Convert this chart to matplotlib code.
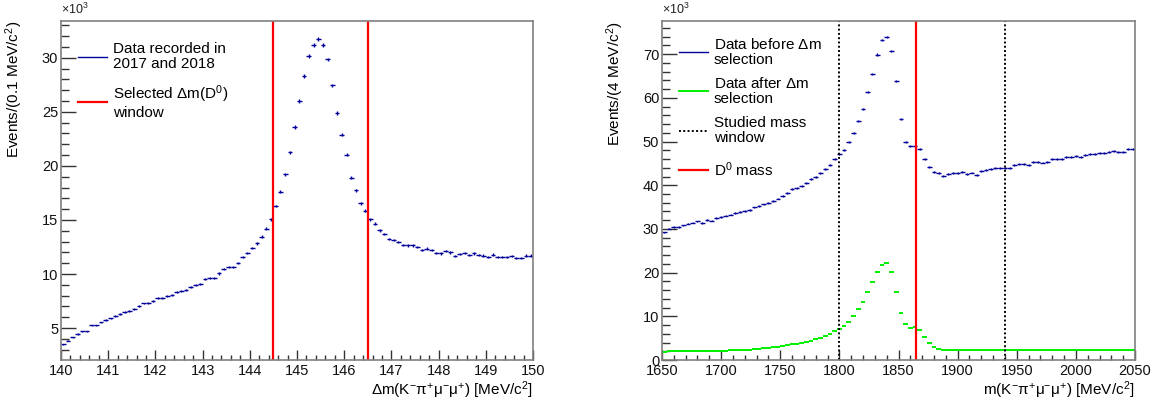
import numpy as np
import matplotlib
matplotlib.use("Agg")
import matplotlib.pyplot as plt
from matplotlib.lines import Line2D
from matplotlib.ticker import MultipleLocator

plt.rcParams['font.family'] = ['Liberation Sans', 'DejaVu Sans']
plt.rcParams['mathtext.fontset'] = 'custom'
plt.rcParams['mathtext.rm'] = 'Liberation Sans'
plt.rcParams['mathtext.it'] = 'Liberation Sans:italic'
plt.rcParams['mathtext.bf'] = 'Liberation Sans:bold'

# delta m histogram: 140-150 MeV, 0.1 MeV bins, counts in units of 10^3
dm_range = (140.0, 150.0)
dm_counts = [
    3.5, 3.83, 4.15, 4.45, 4.7, 4.7, 5.25, 5.25, 5.53, 5.75,
    5.9, 6.1, 6.3, 6.5, 6.57, 6.8, 7.05, 7.28, 7.33, 7.5,
    7.78, 7.78, 8.0, 8.1, 8.3, 8.4, 8.55, 8.8, 9.0, 9.05,
    9.5, 9.6, 9.6, 10.05, 10.48, 10.67, 10.67, 11.0, 11.6, 11.97,
    12.4, 12.84, 13.45, 14.2, 15.05, 16.3, 17.6, 19.25, 21.25, 23.6,
    26.0, 28.3, 30.15, 31.2, 31.75, 31.15, 29.85, 27.45, 24.9, 22.9,
    21.05, 18.9, 17.75, 16.55, 15.85, 15.05, 14.65, 14.05, 13.7, 13.25,
    13.15, 12.95, 12.7, 12.65, 12.65, 12.5, 12.25, 12.35, 12.2, 11.95,
    11.9, 12.15, 12.0, 11.65, 11.85, 11.95, 11.75, 11.9, 11.75, 11.7,
    11.55, 11.8, 11.6, 11.6, 11.6, 11.65, 11.5, 11.5, 11.7, 11.7,
]
dm_window = [144.5, 146.5]

# m(K pi mu mu) histograms: 1650-2050 MeV, 4 MeV bins, counts in units of 10^3
m_range = (1650.0, 2050.0)
m_before = [
    29.2, 30.1, 30.4, 30.4, 30.8, 31.2, 31.45, 31.75, 31.4, 32.05,
    31.9, 32.5, 32.8, 33.05, 33.3, 33.6, 33.9, 34.05, 34.35, 34.95,
    35.3, 35.6, 36.0, 36.45, 36.95, 37.55, 38.3, 39.1, 39.4, 39.85,
    40.6, 41.5, 41.9, 42.75, 43.7, 44.65, 45.95, 47.1, 48.1, 50.0,
    52.05, 54.8, 57.5, 61.4, 65.5, 69.9, 73.2, 73.9, 70.75, 63.95,
    55.1, 50.0, 48.9, 49.05, 48.4, 45.95, 44.2, 43.0, 42.75, 42.2,
    42.5, 42.75, 42.75, 43.0, 42.6, 42.9, 42.35, 43.35, 43.4, 43.7,
    43.9, 43.9, 44.0, 43.9, 44.6, 44.95, 44.9, 44.7, 45.25, 45.3,
    45.2, 45.4, 46.1, 46.05, 46.0, 46.4, 46.55, 46.7, 46.55, 46.9,
    47.1, 47.25, 47.3, 47.3, 47.55, 47.8, 47.55, 47.7, 48.2, 48.3,
]
m_after = [
    1.9, 1.95, 2.05, 1.95, 2.0, 2.05, 2.05, 2.05, 2.05, 2.05,
    2.1, 2.1, 2.1, 2.14, 2.21, 2.21, 2.3, 2.37, 2.37, 2.6,
    2.52, 2.75, 2.83, 2.9, 3.05, 3.13, 3.36, 3.59, 3.65, 3.97,
    4.2, 4.43, 4.81, 5.11, 5.5, 6.03, 6.64, 7.17, 7.86, 8.7,
    10.08, 11.68, 13.28, 15.5, 17.94, 20.07, 21.76, 22.2, 20.07, 15.6,
    10.76, 8.17, 7.4, 7.63, 6.87, 5.34, 3.97, 3.05, 2.52, 2.37,
    2.3, 2.3, 2.25, 2.25, 2.3, 2.25, 2.3, 2.25, 2.25, 2.3,
    2.3, 2.35, 2.3, 2.25, 2.3, 2.25, 2.3, 2.25, 2.3, 2.3,
    2.25, 2.2, 2.2, 2.25, 2.2, 2.2, 2.25, 2.2, 2.25, 2.3,
    2.3, 2.3, 2.25, 2.3, 2.3, 2.3, 2.25, 2.3, 2.3, 2.3,
]
studied_window = [1800.0, 1940.0]
d0_mass = 1864.84

BLUE = '#000099'
GREEN = '#00f000'
RED = '#ff0000'


def bin_centers(lo, hi, n):
    edges = np.linspace(lo, hi, n + 1)
    return 0.5 * (edges[1:] + edges[:-1]), 0.5 * (edges[1] - edges[0])


def draw_hist(ax, lo, hi, counts, color, lw=1.0):
    y = np.array(counts)
    x, half = bin_centers(lo, hi, len(y))
    # poisson errors, counts are in units of 10^3
    err = np.sqrt(y * 1e3) / 1e3
    ax.errorbar(x, y, xerr=half, yerr=err, fmt='none', ecolor=color,
                elinewidth=lw, capsize=0)


def root_style(ax, xmaj, xmin, ymaj, ymin):
    for s in ax.spines.values():
        s.set_color('#808080')
        s.set_linewidth(1.2)
    ax.xaxis.set_major_locator(MultipleLocator(xmaj))
    ax.xaxis.set_minor_locator(MultipleLocator(xmin))
    ax.yaxis.set_major_locator(MultipleLocator(ymaj))
    ax.yaxis.set_minor_locator(MultipleLocator(ymin))
    ax.tick_params(which='both', direction='in', top=False, right=False,
                   width=1.0, color='#333333', labelsize=10.5, labelcolor='#111111')
    ax.xaxis.set_tick_params(which='major', length=7.5, pad=3)
    ax.xaxis.set_tick_params(which='minor', length=3.8)
    ax.yaxis.set_tick_params(which='major', length=11, pad=2)
    ax.yaxis.set_tick_params(which='minor', length=5.5)
    ax.text(0.0, 1.012, r'$\times10^{3}$', transform=ax.transAxes,
            ha='left', va='bottom', fontsize=9, color='#222222')


def root_legend(ax, entries, y_top, dy):
    for i, (kw, label) in enumerate(entries):
        yc = y_top - i * dy
        ax.add_line(Line2D([0.036, 0.097], [yc, yc], transform=ax.transAxes, **kw))
        ax.text(0.110, yc, label, transform=ax.transAxes, ha='left', va='center',
                fontsize=11, linespacing=1.1)


fig = plt.figure(figsize=(11.54, 4.03), dpi=100)
axL = fig.add_axes([61 / 1154, 43 / 403, 472 / 1154, 339 / 403])
axR = fig.add_axes([662 / 1154, 43 / 403, 473 / 1154, 339 / 403])

# left: delta m
draw_hist(axL, *dm_range, dm_counts, BLUE)
for xv in dm_window:
    axL.axvline(xv, color=RED, lw=1.6)
axL.set_xlim(*dm_range)
axL.set_ylim(2.05, 33.4)
root_style(axL, 1, 0.2, 5, 1)
axL.set_xlabel(r'$\mathrm{\Delta m(K^{-}\pi^{+}\mu^{-}\mu^{+})\ [MeV/c^{2}]}$',
               fontsize=11, loc='right')
axL.xaxis.set_label_coords(1.0, -0.056)
axL.set_ylabel(r'Events/(0.1 MeV/c$^{2}$)', fontsize=11, loc='top')
axL.yaxis.set_label_coords(-0.077, 1.0)
root_legend(axL, [
    (dict(color=BLUE, lw=1.0), 'Data recorded in\n2017 and 2018'),
    (dict(color=RED, lw=1.6), r'Selected $\mathrm{\Delta}$m(D$^{0}$)' + '\nwindow'),
], 0.894, 0.133)

# right: m(K pi mu mu)
draw_hist(axR, *m_range, m_before, BLUE)
draw_hist(axR, *m_range, m_after, GREEN, lw=1.4)
for xv in studied_window:
    axR.axvline(xv, color='black', lw=1.4, ls=(0, (1, 1.2)))
axR.axvline(d0_mass, color=RED, lw=1.6)
axR.set_xlim(*m_range)
axR.set_ylim(0, 77.6)
root_style(axR, 50, 10, 10, 2)
axR.set_xlabel(r'$\mathrm{m(K^{-}\pi^{+}\mu^{-}\mu^{+})\ [MeV/c^{2}]}$',
               fontsize=11, loc='right')
axR.xaxis.set_label_coords(1.0, -0.056)
axR.set_ylabel(r'Events/(4 MeV/c$^{2}$)', fontsize=11, loc='top')
axR.yaxis.set_label_coords(-0.077, 1.0)
root_legend(axR, [
    (dict(color=BLUE, lw=1.0), r'Data before $\mathrm{\Delta}$m' + '\nselection'),
    (dict(color=GREEN, lw=1.4), r'Data after $\mathrm{\Delta}$m' + '\nselection'),
    (dict(color='black', lw=1.4, ls=(0, (1, 1.2))), 'Studied mass\nwindow'),
    (dict(color=RED, lw=1.6), r'D$^{0}$ mass'),
], 0.9086, 0.116)

fig.savefig('out.png', dpi=100)
